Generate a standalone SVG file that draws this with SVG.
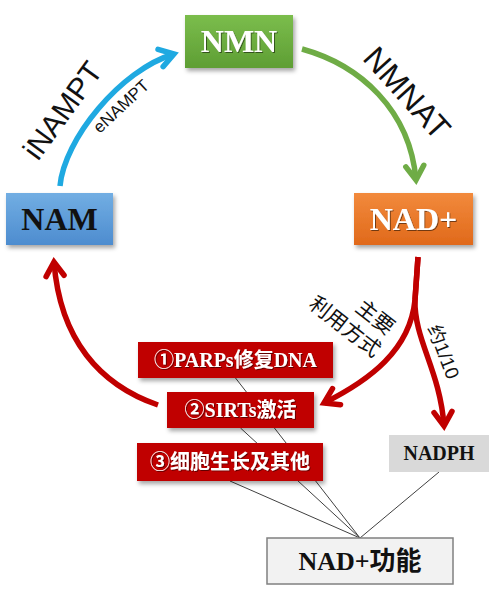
<svg xmlns="http://www.w3.org/2000/svg" width="500" height="600" viewBox="0 0 500 600">
  <style>
    .node-label { font-family: "Liberation Serif", "Noto Sans CJK SC", serif; font-weight: bold; text-anchor: middle; }
    .big { font-size: 32px; }
    .white { fill: #ffffff; }
    .black { fill: #111111; }
    .redtxt { font-size: 20px; fill: #ffffff; }
    .enz { font-family: "Liberation Sans", Arial, sans-serif; fill: #111111; text-anchor: middle; }
    .cjk { font-family: "Noto Sans CJK SC", sans-serif; fill: #111111; text-anchor: middle; }
    .conn-thin { stroke: #404040; stroke-width: 1; fill: none; }
    .arrow { fill: none; stroke-width: 5.5; stroke-linecap: butt; }
  </style>
  <defs>
    <filter id="shadow" x="-10%" y="-20%" width="130%" height="160%">
      <feDropShadow dx="2" dy="3" stdDeviation="2" flood-color="#000" flood-opacity="0.35"/>
    </filter>
    <filter id="tshadow" x="-10%" y="-20%" width="130%" height="160%">
      <feDropShadow dx="1" dy="1" stdDeviation="0.7" flood-color="#000" flood-opacity="0.5"/>
    </filter>
    <linearGradient id="gGreen" x1="0" y1="0" x2="0" y2="1">
      <stop offset="0" stop-color="#7bbd4c"/>
      <stop offset="1" stop-color="#5e9e34"/>
    </linearGradient>
    <linearGradient id="gOrange" x1="0" y1="0" x2="0" y2="1">
      <stop offset="0" stop-color="#f28a3c"/>
      <stop offset="1" stop-color="#e0691b"/>
    </linearGradient>
    <linearGradient id="gBlue" x1="0" y1="0" x2="0" y2="1">
      <stop offset="0" stop-color="#72aee3"/>
      <stop offset="1" stop-color="#4d8ccf"/>
    </linearGradient>
    <marker id="ahBlue" markerUnits="userSpaceOnUse" markerWidth="40" markerHeight="40" viewBox="-20 -20 40 40" refX="0" refY="0" orient="auto" overflow="visible">
      <path d="M-14,-9 L0,0 L-14,9" fill="none" stroke="#1fa9e1" stroke-width="5.5" stroke-linecap="round"/>
    </marker>
    <marker id="ahGreen" markerUnits="userSpaceOnUse" markerWidth="40" markerHeight="40" viewBox="-20 -20 40 40" refX="0" refY="0" orient="auto" overflow="visible">
      <path d="M-14,-9 L0,0 L-14,9" fill="none" stroke="#6fac46" stroke-width="5.5" stroke-linecap="round"/>
    </marker>
    <marker id="ahRed" markerUnits="userSpaceOnUse" markerWidth="40" markerHeight="40" viewBox="-20 -20 40 40" refX="0" refY="0" orient="auto" overflow="visible">
      <path d="M-14,-9 L0,0 L-14,9" fill="none" stroke="#c00000" stroke-width="5.5" stroke-linecap="round"/>
    </marker>
  </defs>

  <rect width="500" height="600" fill="#ffffff"/>

  <g id="connectors">
    <!-- thin lines to NAD+功能 -->
    <line class="conn-thin" x1="360" y1="538" x2="235.5" y2="378"/>
    <line class="conn-thin" x1="360" y1="538" x2="240.5" y2="428"/>
    <line class="conn-thin" x1="360" y1="538" x2="230" y2="481"/>
    <line class="conn-thin" x1="360" y1="538" x2="439" y2="472"/>
    <!-- cycle arrows -->
    <path class="arrow" stroke="#1fa9e1" d="M60,186 C64,140 120,70 174,54" marker-end="url(#ahBlue)"/>
    <path class="arrow" stroke="#6fac46" d="M302,49 C360,65 410,110 416,180" marker-end="url(#ahGreen)"/>
    <path class="arrow" stroke="#c00000" d="M418,257 L415,300 C410,350 370,380 324,403" marker-end="url(#ahRed)"/>
    <path class="arrow" stroke="#c00000" d="M418,257 L415,300 C414,340 440,370 444,426" marker-end="url(#ahRed)"/>
    <path class="arrow" stroke="#c00000" d="M158,405 C100,385 60,340 54,262" marker-end="url(#ahRed)"/>
    <!-- labels -->
    <text class="enz" font-size="30" transform="translate(62,110) rotate(-54)" x="0" y="11">iNAMPT</text>
    <text class="enz" font-size="17" transform="translate(121,106) rotate(-43)" x="0" y="6">eNAMPT</text>
    <text class="enz" font-size="32" transform="translate(407,93) rotate(48)" x="0" y="11">NMNAT</text>
    <g transform="translate(375,317.5) rotate(38)">
      <text class="cjk" font-size="21" x="0" y="7">主要</text>
      <text class="cjk" font-size="21" x="-18" y="33">利用方式</text>
    </g>
    <text class="cjk" font-size="19" transform="translate(443,352) rotate(69)" x="0" y="6">约<tspan font-family="Liberation Sans, sans-serif">1/10</tspan></text>
  </g>

  <g id="nmn">
    <rect x="185" y="15" width="108" height="53" fill="url(#gGreen)" filter="url(#shadow)"/>
    <text class="node-label big white" x="239" y="52" filter="url(#tshadow)">NMN</text>
  </g>
  <g id="nadplus">
    <rect x="354" y="193" width="119" height="52" fill="url(#gOrange)" filter="url(#shadow)"/>
    <text class="node-label big white" x="413.5" y="230" filter="url(#tshadow)">NAD+</text>
  </g>
  <g id="nam">
    <rect x="6" y="193" width="107" height="52" fill="url(#gBlue)" filter="url(#shadow)"/>
    <text class="node-label big black" x="59.5" y="230">NAM</text>
  </g>
  <g id="parps">
    <rect x="138" y="342" width="195" height="36" fill="#c00000" filter="url(#shadow)"/>
    <text class="node-label redtxt" x="235.5" y="367" filter="url(#tshadow)">①PARPs修复DNA</text>
  </g>
  <g id="sirts">
    <rect x="167" y="392" width="147" height="36" fill="#c00000" filter="url(#shadow)"/>
    <text class="node-label redtxt" x="240.5" y="417" filter="url(#tshadow)">②SIRTs激活</text>
  </g>
  <g id="growth">
    <rect x="137" y="443" width="186" height="38" fill="#c00000" filter="url(#shadow)"/>
    <text class="node-label redtxt" x="230" y="469" filter="url(#tshadow)">③细胞生长及其他</text>
  </g>
  <g id="nadph">
    <rect x="389" y="435" width="100" height="37" fill="#d9d9d9"/>
    <text class="node-label black" font-size="20" x="439" y="460">NADPH</text>
  </g>
  <g id="nad-function">
    <rect x="267" y="538" width="186" height="46" fill="#f2f2f2" stroke="#808080" stroke-width="1.5"/>
    <text class="node-label black" font-size="26" x="360" y="570">NAD+功能</text>
  </g>
</svg>
